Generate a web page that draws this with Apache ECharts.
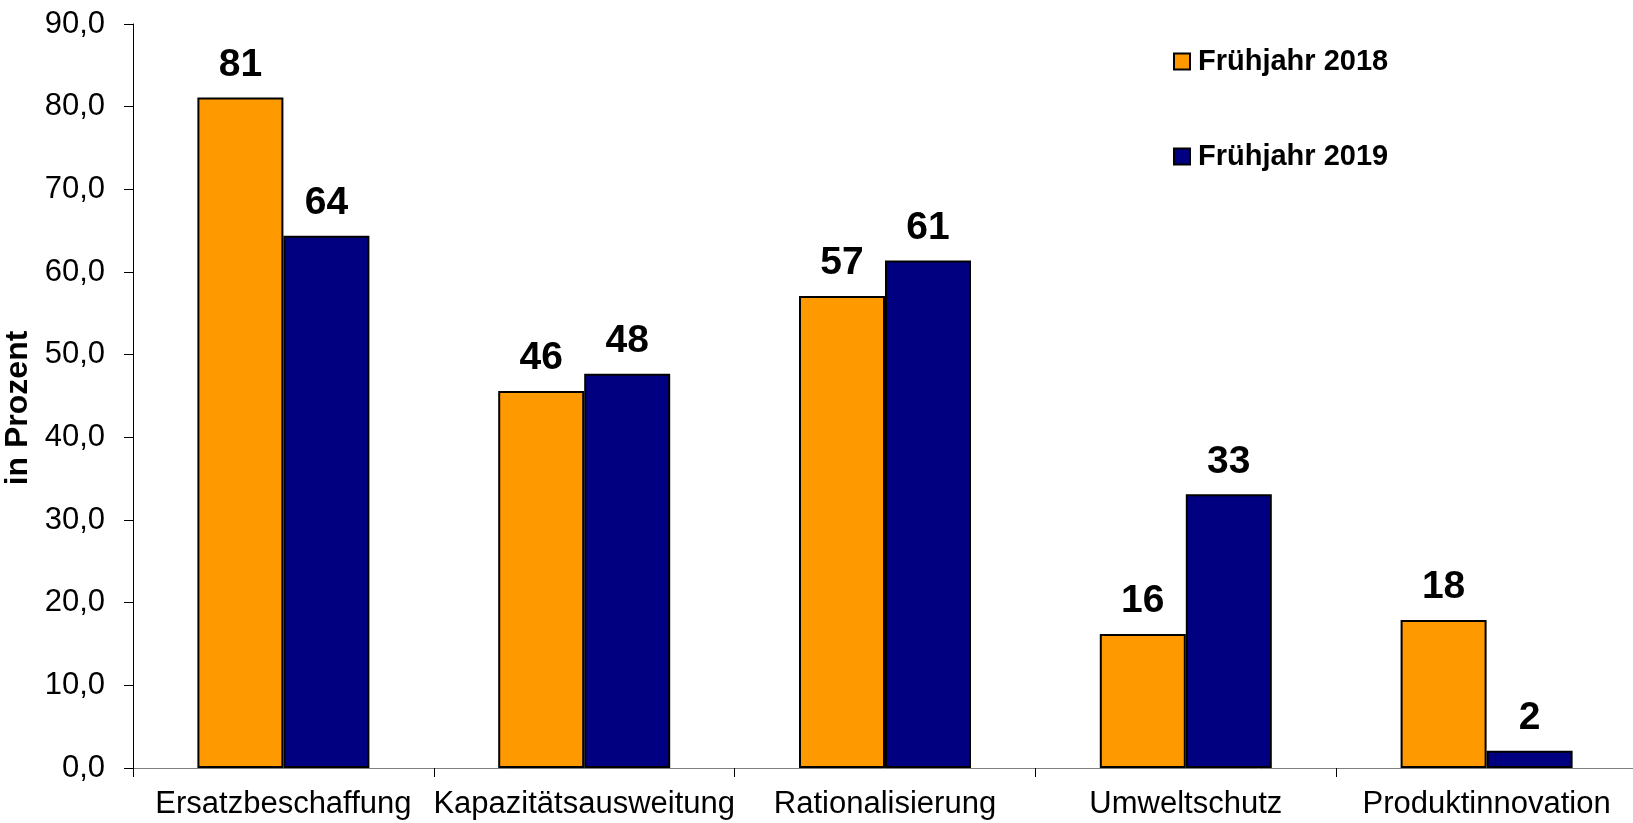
<!DOCTYPE html>
<html>
<head>
<meta charset="utf-8">
<script src="https://cdn.jsdelivr.net/npm/echarts@6/dist/echarts.min.js"></script>
<style>
  html, body { margin: 0; padding: 0; background: #fff; }
  #chart { width: 1633px; height: 823px; }
</style>
</head>
<body>
<div id="chart"></div>
<script>
const categories = ['Ersatzbeschaffung', 'Kapazitätsausweitung', 'Rationalisierung', 'Umweltschutz', 'Produktinnovation'];
const seriesNames = ['Frühjahr 2018', 'Frühjahr 2019'];
const values2018 = [81.1, 45.6, 57.1, 16.2, 17.9];
const values2019 = [64.4, 47.7, 61.4, 33.1, 2.1];
const colors = ['#FF9900', '#000080'];

const chart = echarts.init(document.getElementById('chart'));

const barLabel = {
  show: true,
  position: 'top',
  distance: 13,
  color: '#000',
  fontFamily: 'Liberation Sans, Arial, sans-serif',
  fontWeight: 'bold',
  fontSize: 39,
  formatter: p => Math.round(p.value)
};

const option = {
  backgroundColor: '#fff',
  animation: false,
  grid: { left: 133, top: 24, right: -4, bottom: 55, containLabel: false, outerBoundsMode: 'none' },
  legend: {
    orient: 'vertical',
    left: 1173,
    top: 47,
    padding: 0,
    itemGap: 66,
    itemWidth: 16,
    itemHeight: 16,
    icon: 'rect',
    textStyle: {
      fontFamily: 'Liberation Sans, Arial, sans-serif',
      fontWeight: 'bold',
      fontSize: 29,
      color: '#000',
      padding: [0, 0, 0, 3]
    },
    data: seriesNames
  },
  xAxis: {
    type: 'category',
    data: categories,
    axisLine: { lineStyle: { color: '#808080', width: 1 } },
    axisTick: { show: true, length: 9, lineStyle: { color: '#000' } },
    axisLabel: {
      interval: 0,
      margin: 21,
      color: '#000',
      fontFamily: 'Liberation Sans, Arial, sans-serif',
      fontSize: 31
    }
  },
  yAxis: {
    type: 'value',
    min: 0,
    max: 90,
    interval: 10,
    name: 'in Prozent',
    nameLocation: 'middle',
    nameRotate: 90,
    nameGap: 89,
    nameTextStyle: {
      fontFamily: 'Liberation Sans, Arial, sans-serif',
      fontWeight: 'bold',
      fontSize: 32,
      color: '#000',
      padding: [0, 24, 0, 0]
    },
    axisLine: { show: true, lineStyle: { color: '#000', width: 1 } },
    axisTick: { show: true, length: 9, lineStyle: { color: '#000' } },
    splitLine: { show: false },
    axisLabel: {
      margin: 28,
      color: '#000',
      fontFamily: 'Liberation Sans, Arial, sans-serif',
      fontSize: 31,
      formatter: v => v.toFixed(1).replace('.', ',')
    }
  },
  series: [
    {
      name: seriesNames[0],
      type: 'bar',
      data: values2018,
      barWidth: 86,
      barGap: '0%',
      itemStyle: { color: colors[0], borderColor: '#000', borderWidth: 2 },
      label: barLabel
    },
    {
      name: seriesNames[1],
      type: 'bar',
      data: values2019,
      barWidth: 86,
      barGap: '0%',
      itemStyle: { color: colors[1], borderColor: '#000', borderWidth: 2 },
      label: barLabel
    }
  ]
};

chart.setOption(option);
</script>
</body>
</html>
